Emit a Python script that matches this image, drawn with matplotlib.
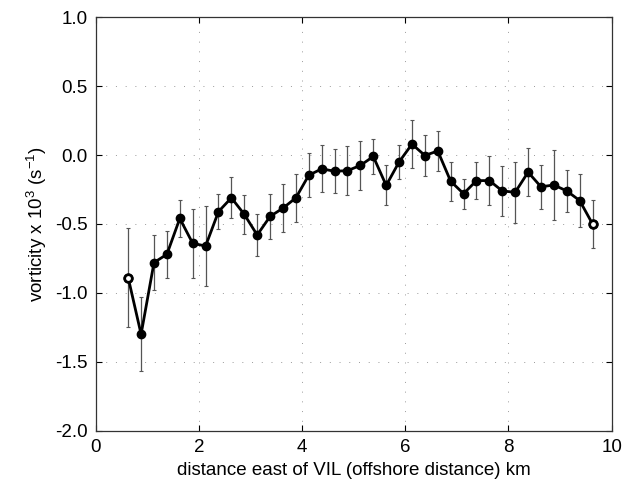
import matplotlib.pyplot as plt
import numpy as np

plt.rcParams['font.family'] = ['Liberation Sans', 'DejaVu Sans']
plt.rcParams['mathtext.fontset'] = 'custom'
plt.rcParams['mathtext.rm'] = 'Liberation Sans'
plt.rcParams['mathtext.it'] = 'Liberation Sans'
plt.rcParams['mathtext.default'] = 'regular'

# distance east of VIL (km)
dist = [0.63, 0.88, 1.13, 1.38, 1.63, 1.88, 2.13, 2.38, 2.63, 2.88,
        3.13, 3.38, 3.63, 3.88, 4.13, 4.38, 4.63, 4.88, 5.13, 5.38,
        5.63, 5.88, 6.13, 6.38, 6.63, 6.88, 7.13, 7.38, 7.63, 7.88,
        8.13, 8.38, 8.63, 8.88, 9.13, 9.38, 9.63]
# mean vorticity x 10^3 (1/s)
vort = [-0.89, -1.30, -0.78, -0.72, -0.46, -0.64, -0.66, -0.41, -0.31, -0.43,
        -0.58, -0.445, -0.385, -0.31, -0.146, -0.10, -0.117, -0.113, -0.075, -0.01,
        -0.22, -0.05, 0.08, -0.003, 0.03, -0.19, -0.28, -0.185, -0.185, -0.26,
        -0.27, -0.124, -0.23, -0.217, -0.26, -0.33, -0.50]
# one standard error
err = [0.36, 0.27, 0.20, 0.17, 0.135, 0.25, 0.29, 0.125, 0.15, 0.14,
       0.15, 0.165, 0.175, 0.175, 0.16, 0.17, 0.16, 0.18, 0.18, 0.13,
       0.145, 0.125, 0.175, 0.148, 0.145, 0.14, 0.11, 0.137, 0.175, 0.18,
       0.22, 0.175, 0.16, 0.255, 0.155, 0.19, 0.175]

fig = plt.figure(figsize=(6.23, 4.87), dpi=100)
ax = fig.add_axes([0.1536, 0.1156, 0.8282, 0.8489])

ax.errorbar(dist, vort, yerr=err, fmt='none', ecolor='#555555',
            elinewidth=0.9, capsize=1.5, capthick=0.8, zorder=2)
ax.plot(dist, vort, '-o', color='black', lw=2.0, ms=6,
        markerfacecolor='black', markeredgecolor='black', zorder=3)
# end points drawn as open circles
ax.plot([dist[0], dist[-1]], [vort[0], vort[-1]], 'o', ms=5.5,
        markerfacecolor='white', markeredgecolor='black', mew=2.0, zorder=4)

ax.set_xlim(0, 10)
ax.set_ylim(-2.0, 1.0)
ax.set_xticks([0, 2, 4, 6, 8, 10])
ax.set_yticks(np.arange(-2.0, 1.01, 0.5))
ax.set_yticklabels(['%.1f' % v for v in np.arange(-2.0, 1.01, 0.5)])

ax.grid(True, color='#9a9a9a', linestyle=(0, (1, 9)), linewidth=0.7)
ax.tick_params(direction='in', length=4, width=0.8, top=True, right=True,
               labelsize=13.5, pad=6)
for s in ax.spines.values():
    s.set_linewidth(0.9)
    s.set_color('#333333')

ax.set_xlabel('distance east of VIL (offshore distance) km', fontsize=13.5)
ax.set_ylabel('vorticity x 10$^{3}$ (s$^{-1}$)', fontsize=13.5, labelpad=4)

fig.savefig('out.png', dpi=100)
